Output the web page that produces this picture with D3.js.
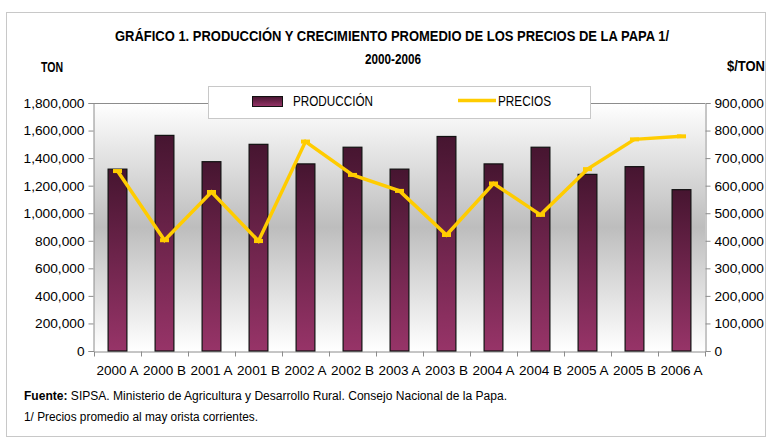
<!DOCTYPE html>
<html lang="es">
  <head>
    <meta charset="UTF-8">
    <script src="https://d3js.org/d3.v7.min.js"></script>
    <title>Producción y precios de la papa</title>
    <style>
      body {
        margin: 0;
        background: #ffffff;
      }
      .narrow {
        font-family: "Liberation Sans Narrow", "Arial Narrow", "Liberation Sans", sans-serif;
      }
      .tick text {
        font-family: "Liberation Sans", Arial, sans-serif;
        fill: #000;
      }
    </style>
  </head>
  <body>
    <div id="chart"></div>
    <script>
      // Periodos (semestres)
      const periodos = ['2000 A', '2000 B', '2001 A', '2001 B', '2002 A', '2002 B', '2003 A',
                        '2003 B', '2004 A', '2004 B', '2005 A', '2005 B', '2006 A'];
      // Producción en toneladas (eje izquierdo)
      const produccion = [1320000, 1565000, 1374000, 1500000, 1358000, 1479000, 1320000,
                          1557000, 1358000, 1479000, 1282000, 1338000, 1171000];
      // Precios promedio $/TON (eje derecho)
      const precios = [653000, 402000, 577000, 399000, 760000, 639000, 581000,
                       421000, 608000, 494000, 660000, 768000, 779000];
      const ticksIzq = [0, 200000, 400000, 600000, 800000, 1000000, 1200000, 1400000, 1600000, 1800000];
      const ticksDer = [0, 100000, 200000, 300000, 400000, 500000, 600000, 700000, 800000, 900000];

      const width = 767, height = 438;
      const plot = { left: 94, right: 705, top: 103, bottom: 351 };

      const svg = d3.select('#chart').append('svg')
        .attr('width', width)
        .attr('height', height);

      const defs = svg.append('defs');
      const bg = defs.append('linearGradient').attr('id', 'bg')
        .attr('x1', 0).attr('y1', 0).attr('x2', 0).attr('y2', 1);
      bg.append('stop').attr('offset', '0%').attr('stop-color', '#ffffff');
      bg.append('stop').attr('offset', '50%').attr('stop-color', '#bdbdbd');
      bg.append('stop').attr('offset', '100%').attr('stop-color', '#ffffff');

      const barGrad = defs.append('linearGradient').attr('id', 'bar')
        .attr('x1', 0).attr('y1', 0).attr('x2', 0).attr('y2', 1);
      barGrad.append('stop').attr('offset', '0%').attr('stop-color', '#461530');
      barGrad.append('stop').attr('offset', '100%').attr('stop-color', '#973468');

      // marco exterior
      svg.append('rect')
        .attr('x', 6.5).attr('y', 12.5)
        .attr('width', 759).attr('height', 424)
        .attr('fill', 'none')
        .attr('stroke', '#c8c8c8');

      // Escalas
      const x = d3.scaleBand()
        .domain(periodos)
        .range([plot.left, plot.right])
        .paddingInner(0.6)
        .paddingOuter(0.3);
      const step = x.step();

      const yIzq = d3.scaleLinear().domain([0, 1800000]).range([plot.bottom, plot.top]);
      const yDer = d3.scaleLinear().domain([0, 900000]).range([plot.bottom, plot.top]);

      // fondo del área de trazado
      svg.append('rect')
        .attr('x', plot.left).attr('y', plot.top)
        .attr('width', plot.right - plot.left)
        .attr('height', plot.bottom - plot.top)
        .attr('fill', 'url(#bg)');
      svg.append('line')
        .attr('x1', plot.left).attr('x2', plot.right)
        .attr('y1', plot.top + 0.5).attr('y2', plot.top + 0.5)
        .attr('stroke', '#8c8c8c');

      const fmt = d3.format(',');

      // Eje izquierdo
      const axL = svg.append('g')
        .attr('transform', `translate(${plot.left - 0.5},0)`)
        .call(d3.axisLeft(yIzq).tickValues(ticksIzq).tickFormat(fmt).tickSize(5).tickPadding(4));
      // Eje derecho
      const axR = svg.append('g')
        .attr('transform', `translate(${plot.right + 0.5},0)`)
        .call(d3.axisRight(yDer).tickValues(ticksDer).tickFormat(fmt).tickSize(5).tickPadding(4));
      [axL, axR].forEach(g => {
        g.selectAll('text').attr('font-size', '13.7px');
        g.select('.domain').attr('stroke', '#8c8c8c');
        g.selectAll('.tick line').attr('stroke', '#8c8c8c');
      });

      // Eje inferior con marcas entre categorías
      const axB = svg.append('g')
        .attr('transform', `translate(0,${plot.bottom + 0.5})`)
        .call(d3.axisBottom(x).tickSize(0).tickPadding(14));
      axB.selectAll('text').attr('font-size', '13.5px');
      axB.select('.domain').attr('stroke', '#8c8c8c');
      axB.selectAll('.sep')
        .data(d3.range(periodos.length + 1))
        .enter().append('line')
        .attr('x1', i => plot.left + i * step + 0.5)
        .attr('x2', i => plot.left + i * step + 0.5)
        .attr('y1', 0).attr('y2', 5)
        .attr('stroke', '#8c8c8c');

      // Barras de producción
      svg.append('g').selectAll('rect')
        .data(produccion)
        .enter().append('rect')
        .attr('x', (d, i) => x(periodos[i]))
        .attr('y', d => yIzq(d))
        .attr('width', x.bandwidth())
        .attr('height', d => plot.bottom - yIzq(d))
        .attr('fill', 'url(#bar)')
        .attr('stroke', '#111')
        .attr('stroke-width', 1.2);

      // Línea de precios
      const cx = i => x(periodos[i]) + x.bandwidth() / 2;
      const line = d3.line()
        .x((d, i) => cx(i))
        .y(d => yDer(d));
      svg.append('path')
        .datum(precios)
        .attr('d', line)
        .attr('fill', 'none')
        .attr('stroke', '#ffcc00')
        .attr('stroke-width', 3.5)
        .attr('stroke-linejoin', 'miter');
      svg.append('g').selectAll('rect')
        .data(precios)
        .enter().append('rect')
        .attr('x', (d, i) => cx(i) - 4.5)
        .attr('y', d => yDer(d) - 2)
        .attr('width', 9).attr('height', 4)
        .attr('fill', '#ffcc00');

      // Leyenda
      const leg = svg.append('g');
      leg.append('rect')
        .attr('x', 208.5).attr('y', 86.5)
        .attr('width', 382).attr('height', 32)
        .attr('fill', '#ffffff')
        .attr('stroke', '#c8c8c8');
      leg.append('rect')
        .attr('x', 252.5).attr('y', 96.5)
        .attr('width', 30).attr('height', 10)
        .attr('fill', 'url(#bar)')
        .attr('stroke', '#111');
      leg.append('text')
        .attr('class', 'narrow')
        .attr('x', 293).attr('y', 106)
        .attr('font-size', '14px')
        .attr('textLength', 80).attr('lengthAdjust', 'spacingAndGlyphs')
        .text('PRODUCCIÓN');
      leg.append('line')
        .attr('x1', 458).attr('x2', 496)
        .attr('y1', 100.5).attr('y2', 100.5)
        .attr('stroke', '#ffcc00')
        .attr('stroke-width', 3.5);
      leg.append('text')
        .attr('class', 'narrow')
        .attr('x', 498).attr('y', 106)
        .attr('font-size', '14px')
        .attr('textLength', 53).attr('lengthAdjust', 'spacingAndGlyphs')
        .text('PRECIOS');

      // Títulos
      svg.append('text')
        .attr('class', 'narrow')
        .attr('x', 115).attr('y', 41)
        .attr('font-size', '14.5px').attr('font-weight', 'bold')
        .attr('textLength', 554).attr('lengthAdjust', 'spacingAndGlyphs')
        .text('GRÁFICO 1. PRODUCCIÓN Y CRECIMIENTO PROMEDIO DE LOS PRECIOS DE LA PAPA 1/');
      svg.append('text')
        .attr('class', 'narrow')
        .attr('x', 365).attr('y', 64)
        .attr('font-size', '14px').attr('font-weight', 'bold')
        .attr('textLength', 56).attr('lengthAdjust', 'spacingAndGlyphs')
        .text('2000-2006');
      svg.append('text')
        .attr('class', 'narrow')
        .attr('x', 41).attr('y', 72)
        .attr('font-size', '14px').attr('font-weight', 'bold')
        .attr('textLength', 22).attr('lengthAdjust', 'spacingAndGlyphs')
        .text('TON');
      svg.append('text')
        .attr('class', 'narrow')
        .attr('x', 727).attr('y', 71)
        .attr('font-size', '14px').attr('font-weight', 'bold')
        .attr('textLength', 38).attr('lengthAdjust', 'spacingAndGlyphs')
        .text('$/TON');

      // Notas al pie
      const f1 = svg.append('text')
        .attr('class', 'narrow')
        .attr('x', 24).attr('y', 400)
        .attr('font-size', '12.5px')
        .attr('textLength', 483).attr('lengthAdjust', 'spacingAndGlyphs');
      f1.append('tspan').attr('font-weight', 'bold').text('Fuente: ');
      f1.append('tspan').text('SIPSA. Ministerio de Agricultura y  Desarrollo Rural. Consejo Nacional de la Papa.');
      svg.append('text')
        .attr('class', 'narrow')
        .attr('x', 24).attr('y', 421)
        .attr('font-size', '12.5px')
        .attr('textLength', 234).attr('lengthAdjust', 'spacingAndGlyphs')
        .text('1/ Precios promedio al may orista corrientes.');
    </script>
  </body>
</html>
